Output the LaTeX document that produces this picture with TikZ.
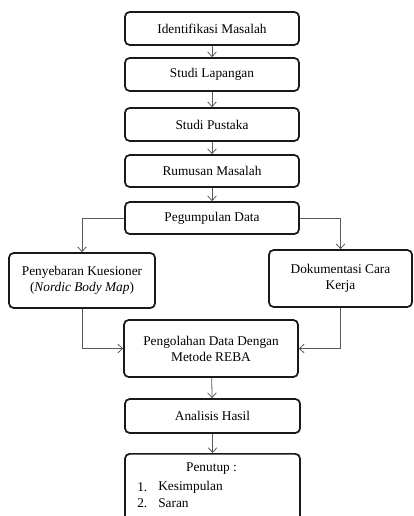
\documentclass[tikz,border=0pt]{standalone}
\usepackage{fontspec}
\setmainfont{Liberation Serif}
\usetikzlibrary{arrows.meta}

\begin{document}
\begin{tikzpicture}[x=0.75pt,y=0.75pt,yscale=-1,xscale=1,
  box/.style={draw=black!90, line width=1.3pt, rounded corners=3.5pt, fill=white,
    minimum width=174*0.75pt, minimum height=33*0.75pt, inner sep=1pt, align=center,
    font=\fontsize{10}{12}\selectfont},
  panah/.style={draw=black!65, line width=0.6pt, -{Straight Barb[length=3.5pt,width=6.5pt]}},
  teks/.style={inner sep=0.75pt, font=\fontsize{10}{12}\selectfont}]
\useasboundingbox (0,0) rectangle (413,516);

% kotak utama
\node[box] (identifikasi) at (212,28.5) {Identifikasi Masalah};
\node[box] (lapangan) at (212,74.5) {Studi Lapangan};
\node[box] (pustaka) at (212,124.5) {Studi Pustaka};
\node[box, minimum height=32*0.75pt] (rumusan) at (212,171) {Rumusan Masalah};
\node[box, minimum height=32*0.75pt] (pengumpulan) at (212,218) {Pegumpulan Data};
\node[box, minimum width=146*0.75pt, minimum height=55*0.75pt] (kuesioner) at (82,280.5)
  {Penyebaran Kuesioner\\(\textit{Nordic Body Map})};
\node[box, minimum width=143*0.75pt, minimum height=57*0.75pt] (dokumentasi) at (340.5,278.5)
  {Dokumentasi Cara\\Kerja};
\node[box, minimum height=57*0.75pt] (pengolahan) at (211,348.5)
  {Pengolahan Data Dengan\\Metode REBA};
\node[box, minimum width=175*0.75pt, minimum height=34*0.75pt] (analisis) at (212.5,416) {Analisis Hasil};
\node[box, minimum width=175*0.75pt, minimum height=80*0.75pt, anchor=north] (penutup) at (212.5,453) {};

% isi penutup
\node[teks] (judulpenutup) at (211.5,469) {Penutup :};
\node[teks, anchor=west] (no1) at (136,487) {1.};
\node[teks, anchor=west] (isi1) at (157,487) {Kesimpulan};
\node[teks, anchor=west] (no2) at (136,503) {2.};
\node[teks, anchor=west] (isi2) at (157,503) {Saran};

% panah
\draw[panah] (identifikasi) -- (lapangan);
\draw[panah] (lapangan) -- (pustaka);
\draw[panah] (pustaka) -- (rumusan);
\draw[panah] (rumusan) -- (pengumpulan);
\draw[panah] (pengumpulan.west) -| (kuesioner.north);
\draw[panah] (pengumpulan.east) -| (dokumentasi.north);
\draw[panah] (kuesioner.south) |- (pengolahan.west);
\draw[panah] (dokumentasi.south) |- (pengolahan.east);
\draw[panah] (pengolahan) -- (analisis);
\draw[panah] (analisis) -- (penutup);

\end{tikzpicture}
\end{document}
